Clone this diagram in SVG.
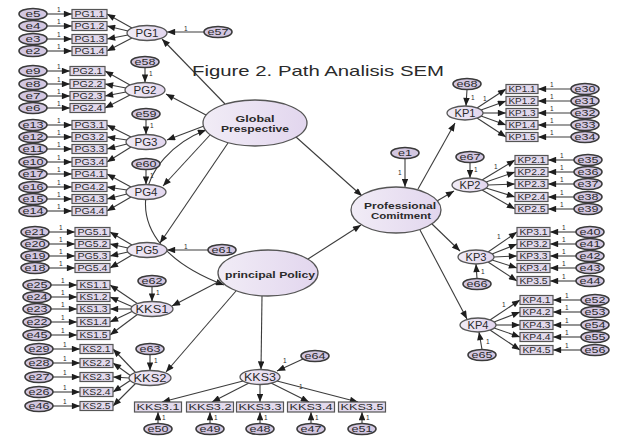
<svg xmlns="http://www.w3.org/2000/svg" width="625" height="438" viewBox="0 0 625 438">
<defs>
<linearGradient id="lg" x1="0" y1="0" x2="1" y2="0"><stop offset="0" stop-color="#f1ecf6"/><stop offset="1" stop-color="#e2d6ee"/></linearGradient>
<marker id="ah" viewBox="0 0 10 8" refX="10" refY="4" markerWidth="9" markerHeight="6.5" markerUnits="userSpaceOnUse" orient="auto-start-reverse"><path d="M0,0L10,4L0,8z" fill="#1e1e1e"/></marker>
</defs>
<style>
.lat{fill:url(#lg);stroke:#555;stroke-width:1.3}
.err{fill:#d3c7e1;stroke:#3a3a3a;stroke-width:1.6}
.box{fill:#e2d9ec;stroke:#555;stroke-width:1.2}
text{font-family:"Liberation Sans",Arial,sans-serif;fill:#2a2a2a;text-anchor:middle;dominant-baseline:central}
.et{font-size:8.5px}
.bt{font-size:8.5px}
.lt{font-size:10.5px}
.big{font-size:9.5px;font-weight:bold}
.one{font-size:6.5px;text-anchor:start}
#connectors line,#connectors path{stroke:#3c3c3c;stroke-width:1.1;fill:none;marker-end:url(#ah)}
</style>
<rect width="625" height="438" fill="#fff"/>
<g id="connectors">
<line x1="225" y1="104" x2="162" y2="39"/>
<line x1="206" y1="115" x2="166" y2="94"/>
<line x1="204" y1="126" x2="167" y2="140"/>
<line x1="210" y1="135" x2="163" y2="186"/>
<line x1="228" y1="143" x2="160" y2="243"/>
<path d="M206,130 C140,155 105,240 224,285" marker-start="url(#ah)"/>
<line x1="296" y1="137" x2="362" y2="196"/>
<line x1="308" y1="259" x2="361" y2="225"/>
<line x1="405" y1="158.5" x2="405" y2="187"/>
<line x1="220" y1="281" x2="172" y2="306"/>
<line x1="236" y1="291" x2="166" y2="372"/>
<line x1="262" y1="296" x2="261" y2="369.5"/>
<line x1="418" y1="189" x2="455" y2="123"/>
<line x1="437" y1="201" x2="454" y2="191"/>
<line x1="432" y1="224" x2="460" y2="251"/>
<line x1="420" y1="230" x2="467" y2="319"/>
<line x1="204" y1="32" x2="167" y2="32"/>
<line x1="145" y1="67.5" x2="145" y2="82.5"/>
<line x1="146" y1="119.5" x2="146" y2="134.5"/>
<line x1="146" y1="169.5" x2="146" y2="184.5"/>
<line x1="208" y1="250" x2="167" y2="250"/>
<line x1="152" y1="286.5" x2="152" y2="301.5"/>
<line x1="150" y1="354.5" x2="150" y2="370.5"/>
<line x1="303" y1="359" x2="277" y2="371"/>
<line x1="467" y1="89.5" x2="466" y2="106"/>
<line x1="470" y1="162.5" x2="470" y2="178"/>
<line x1="477" y1="278.5" x2="476" y2="264"/>
<line x1="482" y1="349.5" x2="479" y2="332"/>
<line x1="132" y1="28" x2="107" y2="14"/><line x1="128" y1="31" x2="107" y2="26"/><line x1="128" y1="35" x2="107" y2="39"/><line x1="132" y1="38" x2="107" y2="51"/>
<line x1="47" y1="14" x2="72" y2="14"/><line x1="47" y1="26" x2="72" y2="26"/><line x1="47" y1="39" x2="72" y2="39"/><line x1="47" y1="51" x2="72" y2="51"/>
<line x1="130" y1="85" x2="105" y2="71"/><line x1="126" y1="88" x2="105" y2="84"/><line x1="126" y1="92" x2="105" y2="96"/><line x1="130" y1="95" x2="105" y2="108"/>
<line x1="47" y1="71" x2="70" y2="71"/><line x1="47" y1="84" x2="70" y2="84"/><line x1="47" y1="96" x2="70" y2="96"/><line x1="47" y1="108" x2="70" y2="108"/>
<line x1="131" y1="137" x2="107" y2="125"/><line x1="127" y1="140" x2="107" y2="137"/><line x1="127" y1="144" x2="107" y2="149"/><line x1="131" y1="147" x2="107" y2="162"/>
<line x1="47" y1="125" x2="72" y2="125"/><line x1="47" y1="137" x2="72" y2="137"/><line x1="47" y1="149" x2="72" y2="149"/><line x1="47" y1="162" x2="72" y2="162"/>
<line x1="131" y1="187" x2="107" y2="174"/><line x1="127" y1="190" x2="107" y2="187"/><line x1="127" y1="194" x2="107" y2="199"/><line x1="131" y1="197" x2="107" y2="211"/>
<line x1="47" y1="174" x2="72" y2="174"/><line x1="47" y1="187" x2="72" y2="187"/><line x1="47" y1="199" x2="72" y2="199"/><line x1="47" y1="211" x2="72" y2="211"/>
<line x1="132" y1="245" x2="110" y2="232"/><line x1="128" y1="248" x2="110" y2="244"/><line x1="128" y1="252" x2="110" y2="256"/><line x1="132" y1="255" x2="110" y2="268"/>
<line x1="49" y1="232" x2="75" y2="232"/><line x1="49" y1="244" x2="75" y2="244"/><line x1="49" y1="256" x2="75" y2="256"/><line x1="49" y1="268" x2="75" y2="268"/>
<line x1="138" y1="304" x2="110" y2="285"/><line x1="133" y1="307" x2="110" y2="297"/><line x1="131" y1="309" x2="110" y2="309"/><line x1="133" y1="311" x2="110" y2="322"/><line x1="138" y1="314" x2="110" y2="335"/>
<line x1="51" y1="285" x2="77" y2="285"/><line x1="51" y1="297" x2="77" y2="297"/><line x1="51" y1="309" x2="77" y2="309"/><line x1="51" y1="322" x2="77" y2="322"/><line x1="51" y1="335" x2="77" y2="335"/>
<line x1="136" y1="373" x2="113" y2="349"/><line x1="131" y1="376" x2="113" y2="363"/><line x1="129" y1="378" x2="113" y2="377"/><line x1="131" y1="380" x2="113" y2="392"/><line x1="136" y1="383" x2="113" y2="406"/>
<line x1="53" y1="349" x2="80" y2="349"/><line x1="53" y1="363" x2="80" y2="363"/><line x1="53" y1="377" x2="80" y2="377"/><line x1="53" y1="392" x2="80" y2="392"/><line x1="53" y1="406" x2="80" y2="406"/>
<line x1="243" y1="381" x2="162" y2="402"/><line x1="249" y1="383" x2="212" y2="402"/><line x1="260" y1="384.5" x2="260" y2="402"/><line x1="271" y1="383" x2="309" y2="402"/><line x1="277" y1="381" x2="358" y2="402"/>
<line x1="158" y1="423.5" x2="158" y2="412"/><line x1="210" y1="423.5" x2="210" y2="412"/><line x1="260" y1="423.5" x2="260" y2="412"/><line x1="311" y1="423.5" x2="311" y2="412"/><line x1="362" y1="423.5" x2="362" y2="412"/>
<line x1="477" y1="108" x2="506" y2="89"/><line x1="481" y1="110" x2="506" y2="101"/><line x1="483" y1="113" x2="506" y2="113"/><line x1="481" y1="116" x2="506" y2="125"/><line x1="477" y1="118" x2="506" y2="137"/>
<line x1="571" y1="89" x2="538" y2="89"/><line x1="571" y1="101" x2="538" y2="101"/><line x1="571" y1="113" x2="538" y2="113"/><line x1="571" y1="125" x2="538" y2="125"/><line x1="571" y1="137" x2="538" y2="137"/>
<line x1="482" y1="180" x2="515" y2="160"/><line x1="486" y1="182" x2="515" y2="172"/><line x1="488" y1="185" x2="515" y2="184"/><line x1="486" y1="188" x2="515" y2="197"/><line x1="482" y1="190" x2="515" y2="209"/>
<line x1="574" y1="160" x2="548" y2="160"/><line x1="574" y1="172" x2="548" y2="172"/><line x1="574" y1="184" x2="548" y2="184"/><line x1="574" y1="197" x2="548" y2="197"/><line x1="574" y1="209" x2="548" y2="209"/>
<line x1="488" y1="252" x2="517" y2="232"/><line x1="492" y1="254" x2="517" y2="244"/><line x1="494" y1="257" x2="517" y2="256"/><line x1="492" y1="260" x2="517" y2="268"/><line x1="488" y1="262" x2="517" y2="281"/>
<line x1="576" y1="232" x2="550" y2="232"/><line x1="576" y1="244" x2="550" y2="244"/><line x1="576" y1="256" x2="550" y2="256"/><line x1="576" y1="268" x2="550" y2="268"/><line x1="576" y1="281" x2="550" y2="281"/>
<line x1="490" y1="320" x2="520" y2="300"/><line x1="494" y1="322" x2="520" y2="312"/><line x1="496" y1="325" x2="520" y2="325"/><line x1="494" y1="328" x2="520" y2="337"/><line x1="490" y1="330" x2="520" y2="350"/>
<line x1="581" y1="300" x2="553" y2="300"/><line x1="581" y1="312" x2="553" y2="312"/><line x1="581" y1="325" x2="553" y2="325"/><line x1="581" y1="337" x2="553" y2="337"/><line x1="581" y1="350" x2="553" y2="350"/>
</g>
<g id="weights">
<text class="one" x="184" y="28">1</text><text class="one" x="149" y="73">1</text><text class="one" x="150" y="125">1</text><text class="one" x="150" y="175">1</text><text class="one" x="184" y="246">1</text><text class="one" x="156" y="292">1</text><text class="one" x="154" y="360">1</text><text class="one" x="283" y="360">1</text><text class="one" x="398" y="172">1</text><text class="one" x="471" y="97">1</text><text class="one" x="474" y="169">1</text><text class="one" x="481" y="271">1</text><text class="one" x="486" y="341">1</text>
<text class="one" x="483" y="98">1</text><text class="one" x="494" y="166">1</text><text class="one" x="497" y="236">1</text><text class="one" x="502" y="304">1</text><text class="one" x="299" y="386">1</text>
<text class="one" x="57" y="9">1</text><text class="one" x="57" y="21">1</text><text class="one" x="57" y="34">1</text><text class="one" x="57" y="46">1</text>
<text class="one" x="57" y="66">1</text><text class="one" x="57" y="79">1</text><text class="one" x="57" y="91">1</text><text class="one" x="57" y="103">1</text>
<text class="one" x="57" y="120">1</text><text class="one" x="57" y="132">1</text><text class="one" x="57" y="144">1</text><text class="one" x="57" y="157">1</text>
<text class="one" x="57" y="169">1</text><text class="one" x="57" y="182">1</text><text class="one" x="57" y="194">1</text><text class="one" x="57" y="206">1</text>
<text class="one" x="59" y="227">1</text><text class="one" x="59" y="239">1</text><text class="one" x="59" y="251">1</text><text class="one" x="59" y="263">1</text>
<text class="one" x="61" y="280">1</text><text class="one" x="61" y="292">1</text><text class="one" x="61" y="304">1</text><text class="one" x="61" y="317">1</text><text class="one" x="61" y="330">1</text>
<text class="one" x="63" y="344">1</text><text class="one" x="63" y="358">1</text><text class="one" x="63" y="372">1</text><text class="one" x="63" y="387">1</text><text class="one" x="63" y="401">1</text>
<text class="one" x="162" y="417">1</text><text class="one" x="214" y="417">1</text><text class="one" x="264" y="417">1</text><text class="one" x="315" y="417">1</text><text class="one" x="366" y="417">1</text>
<text class="one" x="550" y="84">1</text><text class="one" x="550" y="96">1</text><text class="one" x="550" y="108">1</text><text class="one" x="550" y="120">1</text><text class="one" x="550" y="132">1</text>
<text class="one" x="560" y="155">1</text><text class="one" x="560" y="167">1</text><text class="one" x="560" y="179">1</text><text class="one" x="560" y="192">1</text><text class="one" x="560" y="204">1</text>
<text class="one" x="562" y="227">1</text><text class="one" x="562" y="239">1</text><text class="one" x="562" y="251">1</text><text class="one" x="562" y="263">1</text><text class="one" x="562" y="276">1</text>
<text class="one" x="565" y="295">1</text><text class="one" x="565" y="307">1</text><text class="one" x="565" y="320">1</text><text class="one" x="565" y="332">1</text><text class="one" x="565" y="345">1</text>
</g>
<text id="title" x="318" y="70" font-size="15" textLength="252" lengthAdjust="spacingAndGlyphs">Figure 2. Path Analisis SEM</text>
<g id="GlobalPrespective"><ellipse class="lat" cx="255" cy="123" rx="52" ry="23"/><text class="big" x="255" y="118" textLength="39" lengthAdjust="spacingAndGlyphs">Global</text><text class="big" x="255" y="128" textLength="68" lengthAdjust="spacingAndGlyphs">Prespective</text></g>
<g id="ProfessionalComitment"><ellipse class="lat" cx="396" cy="210" rx="45" ry="23"/><text class="big" x="400" y="205.5" textLength="72" lengthAdjust="spacingAndGlyphs">Professional</text><text class="big" x="401" y="215" textLength="60" lengthAdjust="spacingAndGlyphs">Comitment</text></g>
<g id="PrincipalPolicy"><ellipse class="lat" cx="268" cy="273" rx="50" ry="23"/><text class="big" x="270" y="274" textLength="90" lengthAdjust="spacingAndGlyphs">principal Policy</text></g>
<g id="e1"><ellipse class="err" cx="405" cy="153" rx="14" ry="5.5"/><text class="et" x="405" y="153" textLength="14" lengthAdjust="spacingAndGlyphs">e1</text></g>
<g id="PG1"><ellipse class="lat" cx="147" cy="33" rx="20" ry="7.5"/><text class="lt" x="147" y="33" textLength="23" lengthAdjust="spacingAndGlyphs">PG1</text></g>
<g id="PG1_1"><rect class="box" x="72" y="9.5" width="35" height="9"/><text class="bt" x="89.5" y="14" textLength="30" lengthAdjust="spacingAndGlyphs">PG1.1</text></g>
<g id="PG1_2"><rect class="box" x="72" y="21.5" width="35" height="9"/><text class="bt" x="89.5" y="26" textLength="30" lengthAdjust="spacingAndGlyphs">PG1.2</text></g>
<g id="PG1_3"><rect class="box" x="72" y="34.5" width="35" height="9"/><text class="bt" x="89.5" y="39" textLength="30" lengthAdjust="spacingAndGlyphs">PG1.3</text></g>
<g id="PG1_4"><rect class="box" x="72" y="46.5" width="35" height="9"/><text class="bt" x="89.5" y="51" textLength="30" lengthAdjust="spacingAndGlyphs">PG1.4</text></g>
<g id="e5"><ellipse class="err" cx="33" cy="14" rx="14" ry="5.5"/><text class="et" x="33" y="14" textLength="15" lengthAdjust="spacingAndGlyphs">e5</text></g>
<g id="e4"><ellipse class="err" cx="33" cy="26" rx="14" ry="5.5"/><text class="et" x="33" y="26" textLength="15" lengthAdjust="spacingAndGlyphs">e4</text></g>
<g id="e3"><ellipse class="err" cx="33" cy="39" rx="14" ry="5.5"/><text class="et" x="33" y="39" textLength="15" lengthAdjust="spacingAndGlyphs">e3</text></g>
<g id="e2"><ellipse class="err" cx="33" cy="51" rx="14" ry="5.5"/><text class="et" x="33" y="51" textLength="15" lengthAdjust="spacingAndGlyphs">e2</text></g>
<g id="e57"><ellipse class="err" cx="218" cy="32" rx="14" ry="5.5"/><text class="et" x="218" y="32" textLength="21" lengthAdjust="spacingAndGlyphs">e57</text></g>
<g id="PG2"><ellipse class="lat" cx="145" cy="90" rx="20" ry="7.5"/><text class="lt" x="145" y="90" textLength="23" lengthAdjust="spacingAndGlyphs">PG2</text></g>
<g id="PG2_1"><rect class="box" x="70" y="66.5" width="35" height="9"/><text class="bt" x="87.5" y="71" textLength="30" lengthAdjust="spacingAndGlyphs">PG2.1</text></g>
<g id="PG2_2"><rect class="box" x="70" y="79.5" width="35" height="9"/><text class="bt" x="87.5" y="84" textLength="30" lengthAdjust="spacingAndGlyphs">PG2.2</text></g>
<g id="PG2_3"><rect class="box" x="70" y="91.5" width="35" height="9"/><text class="bt" x="87.5" y="96" textLength="30" lengthAdjust="spacingAndGlyphs">PG2.3</text></g>
<g id="PG2_4"><rect class="box" x="70" y="103.5" width="35" height="9"/><text class="bt" x="87.5" y="108" textLength="30" lengthAdjust="spacingAndGlyphs">PG2.4</text></g>
<g id="e9"><ellipse class="err" cx="33" cy="71" rx="14" ry="5.5"/><text class="et" x="33" y="71" textLength="15" lengthAdjust="spacingAndGlyphs">e9</text></g>
<g id="e8"><ellipse class="err" cx="33" cy="84" rx="14" ry="5.5"/><text class="et" x="33" y="84" textLength="15" lengthAdjust="spacingAndGlyphs">e8</text></g>
<g id="e7"><ellipse class="err" cx="33" cy="96" rx="14" ry="5.5"/><text class="et" x="33" y="96" textLength="15" lengthAdjust="spacingAndGlyphs">e7</text></g>
<g id="e6"><ellipse class="err" cx="33" cy="108" rx="14" ry="5.5"/><text class="et" x="33" y="108" textLength="15" lengthAdjust="spacingAndGlyphs">e6</text></g>
<g id="e58"><ellipse class="err" cx="145" cy="62" rx="14" ry="5.5"/><text class="et" x="145" y="62" textLength="21" lengthAdjust="spacingAndGlyphs">e58</text></g>
<g id="PG3"><ellipse class="lat" cx="146" cy="142" rx="20" ry="7.5"/><text class="lt" x="146" y="142" textLength="23" lengthAdjust="spacingAndGlyphs">PG3</text></g>
<g id="PG3_1"><rect class="box" x="72" y="120.5" width="35" height="9"/><text class="bt" x="89.5" y="125" textLength="30" lengthAdjust="spacingAndGlyphs">PG3.1</text></g>
<g id="PG3_2"><rect class="box" x="72" y="132.5" width="35" height="9"/><text class="bt" x="89.5" y="137" textLength="30" lengthAdjust="spacingAndGlyphs">PG3.2</text></g>
<g id="PG3_3"><rect class="box" x="72" y="144.5" width="35" height="9"/><text class="bt" x="89.5" y="149" textLength="30" lengthAdjust="spacingAndGlyphs">PG3.3</text></g>
<g id="PG3_4"><rect class="box" x="72" y="157.5" width="35" height="9"/><text class="bt" x="89.5" y="162" textLength="30" lengthAdjust="spacingAndGlyphs">PG3.4</text></g>
<g id="e13"><ellipse class="err" cx="33" cy="125" rx="14" ry="5.5"/><text class="et" x="33" y="125" textLength="21" lengthAdjust="spacingAndGlyphs">e13</text></g>
<g id="e12"><ellipse class="err" cx="33" cy="137" rx="14" ry="5.5"/><text class="et" x="33" y="137" textLength="21" lengthAdjust="spacingAndGlyphs">e12</text></g>
<g id="e11"><ellipse class="err" cx="33" cy="149" rx="14" ry="5.5"/><text class="et" x="33" y="149" textLength="21" lengthAdjust="spacingAndGlyphs">e11</text></g>
<g id="e10"><ellipse class="err" cx="33" cy="162" rx="14" ry="5.5"/><text class="et" x="33" y="162" textLength="21" lengthAdjust="spacingAndGlyphs">e10</text></g>
<g id="e59"><ellipse class="err" cx="146" cy="114" rx="14" ry="5.5"/><text class="et" x="146" y="114" textLength="21" lengthAdjust="spacingAndGlyphs">e59</text></g>
<g id="PG4"><ellipse class="lat" cx="146" cy="192" rx="20" ry="7.5"/><text class="lt" x="146" y="192" textLength="23" lengthAdjust="spacingAndGlyphs">PG4</text></g>
<g id="PG4_1"><rect class="box" x="72" y="169.5" width="35" height="9"/><text class="bt" x="89.5" y="174" textLength="30" lengthAdjust="spacingAndGlyphs">PG4.1</text></g>
<g id="PG4_2"><rect class="box" x="72" y="182.5" width="35" height="9"/><text class="bt" x="89.5" y="187" textLength="30" lengthAdjust="spacingAndGlyphs">PG4.2</text></g>
<g id="PG4_3"><rect class="box" x="72" y="194.5" width="35" height="9"/><text class="bt" x="89.5" y="199" textLength="30" lengthAdjust="spacingAndGlyphs">PG4.3</text></g>
<g id="PG4_4"><rect class="box" x="72" y="206.5" width="35" height="9"/><text class="bt" x="89.5" y="211" textLength="30" lengthAdjust="spacingAndGlyphs">PG4.4</text></g>
<g id="e17"><ellipse class="err" cx="33" cy="174" rx="14" ry="5.5"/><text class="et" x="33" y="174" textLength="21" lengthAdjust="spacingAndGlyphs">e17</text></g>
<g id="e16"><ellipse class="err" cx="33" cy="187" rx="14" ry="5.5"/><text class="et" x="33" y="187" textLength="21" lengthAdjust="spacingAndGlyphs">e16</text></g>
<g id="e15"><ellipse class="err" cx="33" cy="199" rx="14" ry="5.5"/><text class="et" x="33" y="199" textLength="21" lengthAdjust="spacingAndGlyphs">e15</text></g>
<g id="e14"><ellipse class="err" cx="33" cy="211" rx="14" ry="5.5"/><text class="et" x="33" y="211" textLength="21" lengthAdjust="spacingAndGlyphs">e14</text></g>
<g id="e60"><ellipse class="err" cx="146" cy="164" rx="14" ry="5.5"/><text class="et" x="146" y="164" textLength="21" lengthAdjust="spacingAndGlyphs">e60</text></g>
<g id="PG5"><ellipse class="lat" cx="147" cy="250" rx="20" ry="7.5"/><text class="lt" x="147" y="250" textLength="23" lengthAdjust="spacingAndGlyphs">PG5</text></g>
<g id="PG5_1"><rect class="box" x="75" y="227.5" width="35" height="9"/><text class="bt" x="92.5" y="232" textLength="30" lengthAdjust="spacingAndGlyphs">PG5.1</text></g>
<g id="PG5_2"><rect class="box" x="75" y="239.5" width="35" height="9"/><text class="bt" x="92.5" y="244" textLength="30" lengthAdjust="spacingAndGlyphs">PG5.2</text></g>
<g id="PG5_3"><rect class="box" x="75" y="251.5" width="35" height="9"/><text class="bt" x="92.5" y="256" textLength="30" lengthAdjust="spacingAndGlyphs">PG5.3</text></g>
<g id="PG5_4"><rect class="box" x="75" y="263.5" width="35" height="9"/><text class="bt" x="92.5" y="268" textLength="30" lengthAdjust="spacingAndGlyphs">PG5.4</text></g>
<g id="e21"><ellipse class="err" cx="35" cy="232" rx="14" ry="5.5"/><text class="et" x="35" y="232" textLength="21" lengthAdjust="spacingAndGlyphs">e21</text></g>
<g id="e20"><ellipse class="err" cx="35" cy="244" rx="14" ry="5.5"/><text class="et" x="35" y="244" textLength="21" lengthAdjust="spacingAndGlyphs">e20</text></g>
<g id="e19"><ellipse class="err" cx="35" cy="256" rx="14" ry="5.5"/><text class="et" x="35" y="256" textLength="21" lengthAdjust="spacingAndGlyphs">e19</text></g>
<g id="e18"><ellipse class="err" cx="35" cy="268" rx="14" ry="5.5"/><text class="et" x="35" y="268" textLength="21" lengthAdjust="spacingAndGlyphs">e18</text></g>
<g id="e61"><ellipse class="err" cx="222" cy="250" rx="14" ry="5.5"/><text class="et" x="222" y="250" textLength="21" lengthAdjust="spacingAndGlyphs">e61</text></g>
<g id="KKS1"><ellipse class="lat" cx="152" cy="309" rx="21" ry="7.5"/><text class="lt" x="152" y="309" textLength="33" lengthAdjust="spacingAndGlyphs">KKS1</text></g>
<g id="KS1_1"><rect class="box" x="77" y="280.5" width="33" height="9"/><text class="bt" x="93.5" y="285" textLength="28" lengthAdjust="spacingAndGlyphs">KS1.1</text></g>
<g id="KS1_2"><rect class="box" x="77" y="292.5" width="33" height="9"/><text class="bt" x="93.5" y="297" textLength="28" lengthAdjust="spacingAndGlyphs">KS1.2</text></g>
<g id="KS1_3"><rect class="box" x="77" y="304.5" width="33" height="9"/><text class="bt" x="93.5" y="309" textLength="28" lengthAdjust="spacingAndGlyphs">KS1.3</text></g>
<g id="KS1_4"><rect class="box" x="77" y="317.5" width="33" height="9"/><text class="bt" x="93.5" y="322" textLength="28" lengthAdjust="spacingAndGlyphs">KS1.4</text></g>
<g id="KS1_5"><rect class="box" x="77" y="330.5" width="33" height="9"/><text class="bt" x="93.5" y="335" textLength="28" lengthAdjust="spacingAndGlyphs">KS1.5</text></g>
<g id="e25"><ellipse class="err" cx="37" cy="285" rx="14" ry="5.5"/><text class="et" x="37" y="285" textLength="21" lengthAdjust="spacingAndGlyphs">e25</text></g>
<g id="e24"><ellipse class="err" cx="37" cy="297" rx="14" ry="5.5"/><text class="et" x="37" y="297" textLength="21" lengthAdjust="spacingAndGlyphs">e24</text></g>
<g id="e23"><ellipse class="err" cx="37" cy="309" rx="14" ry="5.5"/><text class="et" x="37" y="309" textLength="21" lengthAdjust="spacingAndGlyphs">e23</text></g>
<g id="e22"><ellipse class="err" cx="37" cy="322" rx="14" ry="5.5"/><text class="et" x="37" y="322" textLength="21" lengthAdjust="spacingAndGlyphs">e22</text></g>
<g id="e45"><ellipse class="err" cx="37" cy="335" rx="14" ry="5.5"/><text class="et" x="37" y="335" textLength="21" lengthAdjust="spacingAndGlyphs">e45</text></g>
<g id="e62"><ellipse class="err" cx="152" cy="281" rx="14" ry="5.5"/><text class="et" x="152" y="281" textLength="21" lengthAdjust="spacingAndGlyphs">e62</text></g>
<g id="KKS2"><ellipse class="lat" cx="150" cy="378" rx="21" ry="7.5"/><text class="lt" x="150" y="378" textLength="33" lengthAdjust="spacingAndGlyphs">KKS2</text></g>
<g id="KS2_1"><rect class="box" x="80" y="344.5" width="33" height="9"/><text class="bt" x="96.5" y="349" textLength="28" lengthAdjust="spacingAndGlyphs">KS2.1</text></g>
<g id="KS2_2"><rect class="box" x="80" y="358.5" width="33" height="9"/><text class="bt" x="96.5" y="363" textLength="28" lengthAdjust="spacingAndGlyphs">KS2.2</text></g>
<g id="KS2_3"><rect class="box" x="80" y="372.5" width="33" height="9"/><text class="bt" x="96.5" y="377" textLength="28" lengthAdjust="spacingAndGlyphs">KS2.3</text></g>
<g id="KS2_4"><rect class="box" x="80" y="387.5" width="33" height="9"/><text class="bt" x="96.5" y="392" textLength="28" lengthAdjust="spacingAndGlyphs">KS2.4</text></g>
<g id="KS2_5"><rect class="box" x="80" y="401.5" width="33" height="9"/><text class="bt" x="96.5" y="406" textLength="28" lengthAdjust="spacingAndGlyphs">KS2.5</text></g>
<g id="e29"><ellipse class="err" cx="39" cy="349" rx="14" ry="5.5"/><text class="et" x="39" y="349" textLength="21" lengthAdjust="spacingAndGlyphs">e29</text></g>
<g id="e28"><ellipse class="err" cx="39" cy="363" rx="14" ry="5.5"/><text class="et" x="39" y="363" textLength="21" lengthAdjust="spacingAndGlyphs">e28</text></g>
<g id="e27"><ellipse class="err" cx="39" cy="377" rx="14" ry="5.5"/><text class="et" x="39" y="377" textLength="21" lengthAdjust="spacingAndGlyphs">e27</text></g>
<g id="e26"><ellipse class="err" cx="39" cy="392" rx="14" ry="5.5"/><text class="et" x="39" y="392" textLength="21" lengthAdjust="spacingAndGlyphs">e26</text></g>
<g id="e46"><ellipse class="err" cx="39" cy="406" rx="14" ry="5.5"/><text class="et" x="39" y="406" textLength="21" lengthAdjust="spacingAndGlyphs">e46</text></g>
<g id="e63"><ellipse class="err" cx="150" cy="349" rx="14" ry="5.5"/><text class="et" x="150" y="349" textLength="21" lengthAdjust="spacingAndGlyphs">e63</text></g>
<g id="KKS3"><ellipse class="lat" cx="260" cy="377" rx="20" ry="7.5"/><text class="lt" x="260" y="377" textLength="32" lengthAdjust="spacingAndGlyphs">KKS3</text></g>
<g id="KKS3_1"><rect class="box" x="134.5" y="402" width="47" height="10"/><text class="bt" x="158" y="407" textLength="43" lengthAdjust="spacingAndGlyphs">KKS3.1</text></g>
<g id="KKS3_2"><rect class="box" x="186.5" y="402" width="47" height="10"/><text class="bt" x="210" y="407" textLength="43" lengthAdjust="spacingAndGlyphs">KKS3.2</text></g>
<g id="KKS3_3"><rect class="box" x="236.5" y="402" width="47" height="10"/><text class="bt" x="260" y="407" textLength="43" lengthAdjust="spacingAndGlyphs">KKS3.3</text></g>
<g id="KKS3_4"><rect class="box" x="287.5" y="402" width="47" height="10"/><text class="bt" x="311" y="407" textLength="43" lengthAdjust="spacingAndGlyphs">KKS3.4</text></g>
<g id="KKS3_5"><rect class="box" x="338.5" y="402" width="47" height="10"/><text class="bt" x="362" y="407" textLength="43" lengthAdjust="spacingAndGlyphs">KKS3.5</text></g>
<g id="e50"><ellipse class="err" cx="158" cy="429" rx="14" ry="5.5"/><text class="et" x="158" y="429" textLength="21" lengthAdjust="spacingAndGlyphs">e50</text></g>
<g id="e49"><ellipse class="err" cx="210" cy="429" rx="14" ry="5.5"/><text class="et" x="210" y="429" textLength="21" lengthAdjust="spacingAndGlyphs">e49</text></g>
<g id="e48"><ellipse class="err" cx="260" cy="429" rx="14" ry="5.5"/><text class="et" x="260" y="429" textLength="21" lengthAdjust="spacingAndGlyphs">e48</text></g>
<g id="e47"><ellipse class="err" cx="311" cy="429" rx="14" ry="5.5"/><text class="et" x="311" y="429" textLength="21" lengthAdjust="spacingAndGlyphs">e47</text></g>
<g id="e51"><ellipse class="err" cx="362" cy="429" rx="14" ry="5.5"/><text class="et" x="362" y="429" textLength="21" lengthAdjust="spacingAndGlyphs">e51</text></g>
<g id="e64"><ellipse class="err" cx="315" cy="356" rx="14" ry="5.5"/><text class="et" x="315" y="356" textLength="21" lengthAdjust="spacingAndGlyphs">e64</text></g>
<g id="KP1"><ellipse class="lat" cx="465" cy="113" rx="18" ry="7"/><text class="lt" x="465" y="113" textLength="21" lengthAdjust="spacingAndGlyphs">KP1</text></g>
<g id="KP1_1"><rect class="box" x="506" y="84.5" width="32" height="9"/><text class="bt" x="522" y="89" textLength="27" lengthAdjust="spacingAndGlyphs">KP1.1</text></g>
<g id="KP1_2"><rect class="box" x="506" y="96.5" width="32" height="9"/><text class="bt" x="522" y="101" textLength="27" lengthAdjust="spacingAndGlyphs">KP1.2</text></g>
<g id="KP1_3"><rect class="box" x="506" y="108.5" width="32" height="9"/><text class="bt" x="522" y="113" textLength="27" lengthAdjust="spacingAndGlyphs">KP1.3</text></g>
<g id="KP1_4"><rect class="box" x="506" y="120.5" width="32" height="9"/><text class="bt" x="522" y="125" textLength="27" lengthAdjust="spacingAndGlyphs">KP1.4</text></g>
<g id="KP1_5"><rect class="box" x="506" y="132.5" width="32" height="9"/><text class="bt" x="522" y="137" textLength="27" lengthAdjust="spacingAndGlyphs">KP1.5</text></g>
<g id="e30"><ellipse class="err" cx="585" cy="89" rx="14" ry="5.5"/><text class="et" x="585" y="89" textLength="21" lengthAdjust="spacingAndGlyphs">e30</text></g>
<g id="e31"><ellipse class="err" cx="585" cy="101" rx="14" ry="5.5"/><text class="et" x="585" y="101" textLength="21" lengthAdjust="spacingAndGlyphs">e31</text></g>
<g id="e32"><ellipse class="err" cx="585" cy="113" rx="14" ry="5.5"/><text class="et" x="585" y="113" textLength="21" lengthAdjust="spacingAndGlyphs">e32</text></g>
<g id="e33"><ellipse class="err" cx="585" cy="125" rx="14" ry="5.5"/><text class="et" x="585" y="125" textLength="21" lengthAdjust="spacingAndGlyphs">e33</text></g>
<g id="e34"><ellipse class="err" cx="585" cy="137" rx="14" ry="5.5"/><text class="et" x="585" y="137" textLength="21" lengthAdjust="spacingAndGlyphs">e34</text></g>
<g id="e68"><ellipse class="err" cx="467" cy="84" rx="14" ry="5.5"/><text class="et" x="467" y="84" textLength="21" lengthAdjust="spacingAndGlyphs">e68</text></g>
<g id="KP2"><ellipse class="lat" cx="470" cy="185" rx="18" ry="7"/><text class="lt" x="470" y="185" textLength="21" lengthAdjust="spacingAndGlyphs">KP2</text></g>
<g id="KP2_1"><rect class="box" x="515" y="155.5" width="33" height="9"/><text class="bt" x="531.5" y="160" textLength="28" lengthAdjust="spacingAndGlyphs">KP2.1</text></g>
<g id="KP2_2"><rect class="box" x="515" y="167.5" width="33" height="9"/><text class="bt" x="531.5" y="172" textLength="28" lengthAdjust="spacingAndGlyphs">KP2.2</text></g>
<g id="KP2_3"><rect class="box" x="515" y="179.5" width="33" height="9"/><text class="bt" x="531.5" y="184" textLength="28" lengthAdjust="spacingAndGlyphs">KP2.3</text></g>
<g id="KP2_4"><rect class="box" x="515" y="192.5" width="33" height="9"/><text class="bt" x="531.5" y="197" textLength="28" lengthAdjust="spacingAndGlyphs">KP2.4</text></g>
<g id="KP2_5"><rect class="box" x="515" y="204.5" width="33" height="9"/><text class="bt" x="531.5" y="209" textLength="28" lengthAdjust="spacingAndGlyphs">KP2.5</text></g>
<g id="e35"><ellipse class="err" cx="588" cy="160" rx="14" ry="5.5"/><text class="et" x="588" y="160" textLength="21" lengthAdjust="spacingAndGlyphs">e35</text></g>
<g id="e36"><ellipse class="err" cx="588" cy="172" rx="14" ry="5.5"/><text class="et" x="588" y="172" textLength="21" lengthAdjust="spacingAndGlyphs">e36</text></g>
<g id="e37"><ellipse class="err" cx="588" cy="184" rx="14" ry="5.5"/><text class="et" x="588" y="184" textLength="21" lengthAdjust="spacingAndGlyphs">e37</text></g>
<g id="e38"><ellipse class="err" cx="588" cy="197" rx="14" ry="5.5"/><text class="et" x="588" y="197" textLength="21" lengthAdjust="spacingAndGlyphs">e38</text></g>
<g id="e39"><ellipse class="err" cx="588" cy="209" rx="14" ry="5.5"/><text class="et" x="588" y="209" textLength="21" lengthAdjust="spacingAndGlyphs">e39</text></g>
<g id="e67"><ellipse class="err" cx="470" cy="157" rx="14" ry="5.5"/><text class="et" x="470" y="157" textLength="21" lengthAdjust="spacingAndGlyphs">e67</text></g>
<g id="KP3"><ellipse class="lat" cx="476" cy="257" rx="18" ry="7"/><text class="lt" x="476" y="257" textLength="21" lengthAdjust="spacingAndGlyphs">KP3</text></g>
<g id="KP3_1"><rect class="box" x="517" y="227.5" width="33" height="9"/><text class="bt" x="533.5" y="232" textLength="28" lengthAdjust="spacingAndGlyphs">KP3.1</text></g>
<g id="KP3_2"><rect class="box" x="517" y="239.5" width="33" height="9"/><text class="bt" x="533.5" y="244" textLength="28" lengthAdjust="spacingAndGlyphs">KP3.2</text></g>
<g id="KP3_3"><rect class="box" x="517" y="251.5" width="33" height="9"/><text class="bt" x="533.5" y="256" textLength="28" lengthAdjust="spacingAndGlyphs">KP3.3</text></g>
<g id="KP3_4"><rect class="box" x="517" y="263.5" width="33" height="9"/><text class="bt" x="533.5" y="268" textLength="28" lengthAdjust="spacingAndGlyphs">KP3.4</text></g>
<g id="KP3_5"><rect class="box" x="517" y="276.5" width="33" height="9"/><text class="bt" x="533.5" y="281" textLength="28" lengthAdjust="spacingAndGlyphs">KP3.5</text></g>
<g id="e40"><ellipse class="err" cx="590" cy="232" rx="14" ry="5.5"/><text class="et" x="590" y="232" textLength="21" lengthAdjust="spacingAndGlyphs">e40</text></g>
<g id="e41"><ellipse class="err" cx="590" cy="244" rx="14" ry="5.5"/><text class="et" x="590" y="244" textLength="21" lengthAdjust="spacingAndGlyphs">e41</text></g>
<g id="e42"><ellipse class="err" cx="590" cy="256" rx="14" ry="5.5"/><text class="et" x="590" y="256" textLength="21" lengthAdjust="spacingAndGlyphs">e42</text></g>
<g id="e43"><ellipse class="err" cx="590" cy="268" rx="14" ry="5.5"/><text class="et" x="590" y="268" textLength="21" lengthAdjust="spacingAndGlyphs">e43</text></g>
<g id="e44"><ellipse class="err" cx="590" cy="281" rx="14" ry="5.5"/><text class="et" x="590" y="281" textLength="21" lengthAdjust="spacingAndGlyphs">e44</text></g>
<g id="e66"><ellipse class="err" cx="477" cy="284" rx="14" ry="5.5"/><text class="et" x="477" y="284" textLength="21" lengthAdjust="spacingAndGlyphs">e66</text></g>
<g id="KP4"><ellipse class="lat" cx="478" cy="325" rx="18" ry="7"/><text class="lt" x="478" y="325" textLength="21" lengthAdjust="spacingAndGlyphs">KP4</text></g>
<g id="KP4_1"><rect class="box" x="520" y="295.5" width="33" height="9"/><text class="bt" x="536.5" y="300" textLength="28" lengthAdjust="spacingAndGlyphs">KP4.1</text></g>
<g id="KP4_2"><rect class="box" x="520" y="307.5" width="33" height="9"/><text class="bt" x="536.5" y="312" textLength="28" lengthAdjust="spacingAndGlyphs">KP4.2</text></g>
<g id="KP4_3"><rect class="box" x="520" y="320.5" width="33" height="9"/><text class="bt" x="536.5" y="325" textLength="28" lengthAdjust="spacingAndGlyphs">KP4.3</text></g>
<g id="KP4_4"><rect class="box" x="520" y="332.5" width="33" height="9"/><text class="bt" x="536.5" y="337" textLength="28" lengthAdjust="spacingAndGlyphs">KP4.4</text></g>
<g id="KP4_5"><rect class="box" x="520" y="345.5" width="33" height="9"/><text class="bt" x="536.5" y="350" textLength="28" lengthAdjust="spacingAndGlyphs">KP4.5</text></g>
<g id="e52"><ellipse class="err" cx="595" cy="300" rx="14" ry="5.5"/><text class="et" x="595" y="300" textLength="21" lengthAdjust="spacingAndGlyphs">e52</text></g>
<g id="e53"><ellipse class="err" cx="595" cy="312" rx="14" ry="5.5"/><text class="et" x="595" y="312" textLength="21" lengthAdjust="spacingAndGlyphs">e53</text></g>
<g id="e54"><ellipse class="err" cx="595" cy="325" rx="14" ry="5.5"/><text class="et" x="595" y="325" textLength="21" lengthAdjust="spacingAndGlyphs">e54</text></g>
<g id="e55"><ellipse class="err" cx="595" cy="337" rx="14" ry="5.5"/><text class="et" x="595" y="337" textLength="21" lengthAdjust="spacingAndGlyphs">e55</text></g>
<g id="e56"><ellipse class="err" cx="595" cy="350" rx="14" ry="5.5"/><text class="et" x="595" y="350" textLength="21" lengthAdjust="spacingAndGlyphs">e56</text></g>
<g id="e65"><ellipse class="err" cx="482" cy="355" rx="14" ry="5.5"/><text class="et" x="482" y="355" textLength="21" lengthAdjust="spacingAndGlyphs">e65</text></g>
</svg>
